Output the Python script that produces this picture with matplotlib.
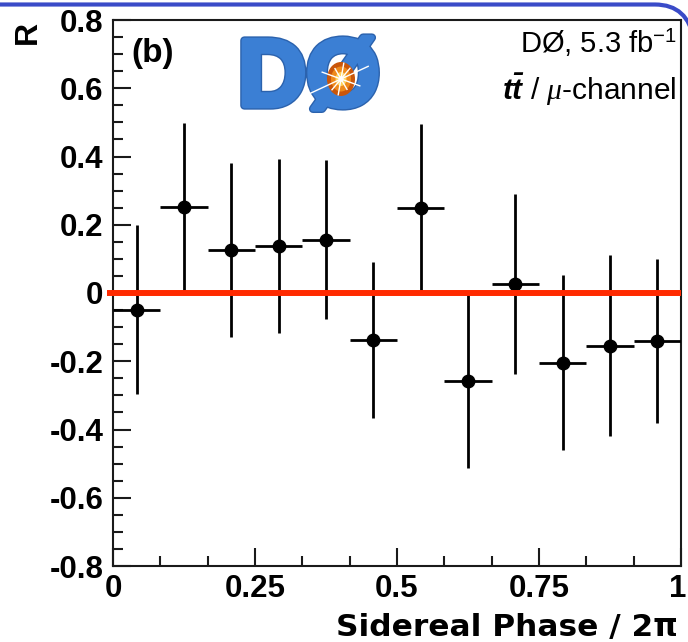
import matplotlib
matplotlib.use("Agg")
import matplotlib.pyplot as plt
import matplotlib.patheffects as pe
import matplotlib.transforms as mtransforms
from matplotlib.patches import Ellipse, PathPatch
from matplotlib.path import Path
from matplotlib.ticker import FixedLocator, MultipleLocator
import numpy as np

plt.rcParams["font.family"] = ["Liberation Sans", "DejaVu Sans"]
plt.rcParams["axes.unicode_minus"] = False
plt.rcParams["mathtext.fontset"] = "custom"
plt.rcParams["mathtext.rm"] = "Liberation Sans"
plt.rcParams["mathtext.it"] = "Liberation Serif:italic"
plt.rcParams["mathtext.bf"] = "Liberation Sans:bold"
plt.rcParams["mathtext.bfit"] = "Liberation Sans:italic:bold"

# Sidereal phase bins (12 bins over one sidereal day)
phase_centers = [1/24, 3/24, 5/24, 7/24, 9/24, 11/24,
                 13/24, 15/24, 17/24, 19/24, 21/24, 23/24]
phase_halfwidth = 1/24
R_values = [-0.049, 0.252, 0.126, 0.138, 0.156, -0.137,
            0.248, -0.257, 0.026, -0.204, -0.155, -0.141]
R_errors = [0.248, 0.247, 0.256, 0.256, 0.233, 0.229,
            0.247, 0.255, 0.263, 0.256, 0.265, 0.241]

x_ticks = [0, 0.25, 0.5, 0.75, 1]
x_tick_labels = ["0", "0.25", "0.5", "0.75", "1"]
y_ticks = [-0.8, -0.6, -0.4, -0.2, 0, 0.2, 0.4, 0.6, 0.8]
y_tick_labels = ["-0.8", "-0.6", "-0.4", "-0.2", "0", "0.2", "0.4", "0.6", "0.8"]

W, H = 688, 642
fig = plt.figure(figsize=(W / 100, H / 100), dpi=100)
fig.patch.set_facecolor("white")

AX_L, AX_R, AX_T, AX_B = 113, 681, 20, 566
ax = fig.add_axes([AX_L / W, 1 - AX_B / H, (AX_R - AX_L) / W, (AX_B - AX_T) / H])
ax.set_xlim(0, 1)
ax.set_ylim(-0.8, 0.8)

ax.errorbar(phase_centers, R_values, xerr=phase_halfwidth, yerr=R_errors,
            fmt="o", color="black", ms=9, elinewidth=2.0, capsize=0, zorder=3)
ax.plot([-0.011, 1], [0, 0], color="#ff2a00", lw=4.3, zorder=5,
        clip_on=False, solid_capstyle="butt")

for s in ax.spines.values():
    s.set_linewidth(1.5)
    s.set_color("#1a1a1a")

ax.xaxis.set_major_locator(FixedLocator(x_ticks))
ax.xaxis.set_minor_locator(MultipleLocator(1 / 12))
ax.yaxis.set_major_locator(FixedLocator(y_ticks))
ax.yaxis.set_minor_locator(MultipleLocator(0.05))
ax.set_xticklabels(x_tick_labels)
ax.set_yticklabels(y_tick_labels)
ax.tick_params(which="both", direction="in", top=False, right=False,
               width=1.5, color="#1a1a1a")
ax.tick_params(which="major", length=13, labelsize=22.5)
ax.tick_params(axis="x", which="major", pad=6)
ax.tick_params(axis="y", which="major", pad=7)
ax.tick_params(which="minor", length=7)
for lab in ax.get_xticklabels() + ax.get_yticklabels():
    lab.set_fontweight("bold")

# keep the last x label inside the canvas
last = ax.get_xticklabels()[-1]
last.set_transform(last.get_transform()
                   + mtransforms.ScaledTranslation(-0.035, 0, fig.dpi_scale_trans))

fig.text(678 / W, 1 - 636 / H, "Sidereal Phase / 2π", ha="right", va="baseline",
         fontsize=22.5, fontweight="bold", family="DejaVu Sans")
fig.text(28 / W, 1 - 32 / H, "R", rotation=90, ha="center", va="center",
         fontsize=23, fontweight="bold")

fig.text(131 / W, 1 - 62 / H, "(b)", ha="left", va="baseline",
         fontsize=24, fontweight="bold")
fig.text(677 / W, 1 - 53 / H, r"DØ, 5.3 fb$^{\mathregular{-1}}$", ha="right",
         va="baseline", fontsize=21)
fig.text(676 / W, 1 - 100 / H, r"$\mathbfit{t\bar{t}}$ / $\mu$-channel",
         ha="right", va="baseline", fontsize=21.5)

# DØ logo
lax = fig.add_axes([237 / W, 1 - 113 / H, 145 / W, 73 / H])
lax.set_xlim(0, 145)
lax.set_ylim(73, 0)
lax.axis("off")
lax.text(72, 41, "DØ", ha="center", va="center", fontsize=68, fontweight="bold",
         color="#3b7fd4",
         path_effects=[pe.Stroke(linewidth=6, foreground="#2b62ad"),
                       pe.Stroke(linewidth=4, foreground="#3b7fd4"),
                       pe.Normal()])
lax.add_patch(Ellipse((104, 39), 28, 34, fc="#c9560a", ec="none", zorder=4))
lax.add_patch(Ellipse((104, 39), 20, 25, fc="#ee8a1c", ec="none", zorder=5))
lax.add_patch(Ellipse((104, 39), 11, 14, fc="#ffd25a", ec="none", zorder=6))
lax.add_patch(Ellipse((104, 39), 5, 6, fc="#fffbe8", ec="none", zorder=7))
for ang, ln in [(25, 30), (205, 34), (80, 16), (260, 16), (-20, 20), (160, 20),
                (120, 12), (300, 12), (50, 14), (230, 14)]:
    a = np.deg2rad(ang)
    lax.plot([104, 104 + ln * np.cos(a)], [39, 39 - ln * np.sin(a)],
             color="white", lw=1.0, zorder=8)

# Slide frame across the top edge
frame_path = Path([(0, 4.5), (655, 4.5), (688, 4.5), (694, 40)],
                  [Path.MOVETO, Path.LINETO, Path.CURVE3, Path.CURVE3])
verts = [(x / W, 1 - y / H) for x, y in frame_path.vertices]
fig.patches.append(PathPatch(Path(verts, frame_path.codes), fill=False,
                             ec="#3a4bc8", lw=3, transform=fig.transFigure))

fig.savefig("out.png", dpi=100)
